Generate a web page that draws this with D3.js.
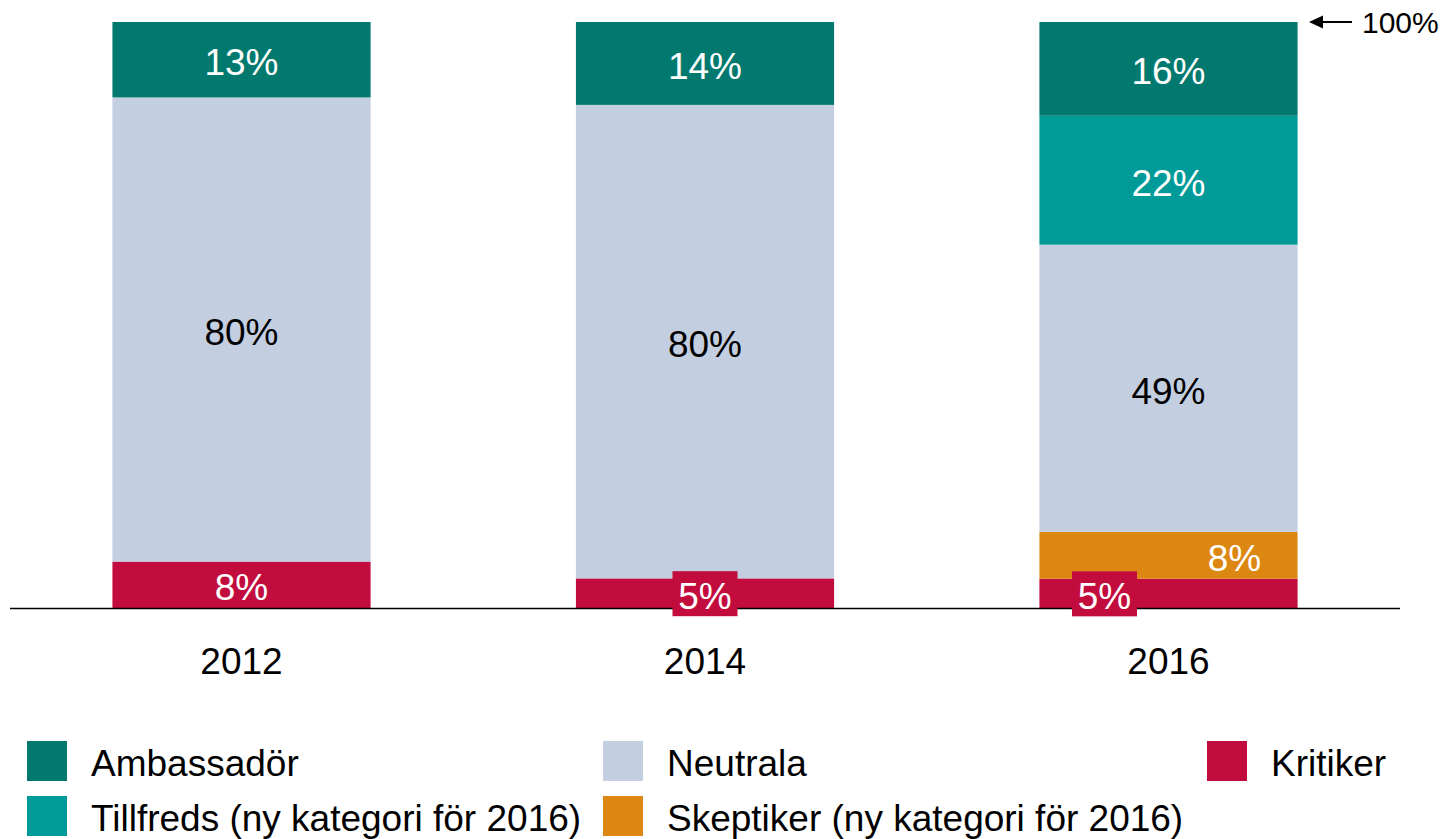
<!DOCTYPE html>
<html>
<head>
<meta charset="utf-8">
<script src="https://cdn.jsdelivr.net/npm/d3@7"></script>
<style>
  html, body { margin: 0; padding: 0; background: #fff; }
  svg { display: block; font-family: "Liberation Sans", Arial, sans-serif; }
</style>
</head>
<body>
<svg id="chart" width="1445" height="839"></svg>
<script>
// Survey years
const years = ["2012", "2014", "2016"];

// Share of respondents per group (%), stacked from the bottom up
const kritiker   = [8, 5, 5];
const skeptiker  = [0, 0, 8];
const neutrala   = [80, 80, 49];
const tillfreds  = [0, 0, 22];
const ambassador = [13, 14, 16];

const seriesKeys   = ["Kritiker", "Skeptiker", "Neutrala", "Tillfreds", "Ambassadör"];
const seriesValues = [kritiker, skeptiker, neutrala, tillfreds, ambassador];
const seriesColors = ["#c20c3d", "#dd8713", "#c3cee1", "#009b98", "#02796e"];
const textColors   = ["#ffffff", "#ffffff", "#000000", "#ffffff", "#ffffff"];

// Legend entries in reading order
const legendLabels = [
  "Ambassadör", "Neutrala", "Kritiker",
  "Tillfreds (ny kategori för 2016)", "Skeptiker (ny kategori för 2016)"
];
const legendKeys = ["Ambassadör", "Neutrala", "Kritiker", "Tillfreds", "Skeptiker"];

const topLabel = "100%";

const rows = years.map((y, i) => {
  const r = { year: y };
  seriesKeys.forEach((k, j) => { r[k] = seriesValues[j][i]; });
  return r;
});

const svg = d3.select("#chart");
const baseY = 608, topY = 22;

const x = d3.scaleBand().domain(years).range([10, 1400])
  .paddingInner(0.443).paddingOuter(0.221);
const y = d3.scaleLinear().domain([0, 1]).range([baseY, topY]);
const color = d3.scaleOrdinal().domain(seriesKeys).range(seriesColors);
const txtColor = d3.scaleOrdinal().domain(seriesKeys).range(textColors);

// Each bar is normalised to its own total so all bars reach 100%
const stacked = d3.stack().keys(seriesKeys).offset(d3.stackOffsetExpand)(rows);

const layers = svg.append("g").selectAll("g")
  .data(stacked).join("g")
  .attr("fill", d => color(d.key));

layers.selectAll("rect")
  .data(d => d.filter(s => s.data[d.key] > 0))
  .join("rect")
  .attr("x", d => x(d.data.year))
  .attr("width", x.bandwidth())
  .attr("y", d => y(d[1]))
  .attr("height", d => y(d[0]) - y(d[1]));

// Baseline
svg.append("line")
  .attr("x1", 10).attr("x2", 1400)
  .attr("y1", baseY + 0.5).attr("y2", baseY + 0.5)
  .attr("stroke", "#000").attr("stroke-width", 1.5);

// Year axis
const xAxis = svg.append("g")
  .attr("transform", `translate(0,${baseY})`)
  .call(d3.axisBottom(x).tickSize(0).tickPadding(40));
xAxis.select(".domain").remove();
xAxis.selectAll("text")
  .attr("font-size", 37).attr("fill", "#000")
  .attr("font-family", "Liberation Sans, Arial, sans-serif");

// Segment value labels
const labels = svg.append("g").attr("font-size", 37).attr("text-anchor", "middle");
stacked.forEach(layer => {
  layer.forEach(seg => {
    const v = seg.data[layer.key];
    if (!v) return;
    const cx0 = x(seg.data.year) + x.bandwidth() / 2;
    const cy = (y(seg[0]) + y(seg[1])) / 2;
    const h = y(seg[0]) - y(seg[1]);
    // Two thin segments in the same bar are staggered left / right
    const hasSkeptiker = seg.data["Skeptiker"] > 0;
    let dx = 0;
    if (hasSkeptiker && layer.key === "Kritiker") dx = -64;
    if (hasSkeptiker && layer.key === "Skeptiker") dx = 66;
    const cx = cx0 + dx;
    if (h < 40) {
      labels.append("rect")
        .attr("x", cx - 32.5).attr("y", cy - 22)
        .attr("width", 65).attr("height", 45)
        .attr("fill", color(layer.key));
    }
    labels.append("text")
      .attr("x", cx).attr("y", cy)
      .attr("dy", "0.42em")
      .attr("fill", txtColor(layer.key))
      .text(v + "%");
  });
});

// 100% marker
const mark = svg.append("g");
mark.append("line")
  .attr("x1", 1318).attr("x2", 1352)
  .attr("y1", topY).attr("y2", topY)
  .attr("stroke", "#000").attr("stroke-width", 2);
mark.append("path")
  .attr("d", `M1309,${topY} L1323,${topY - 6.5} L1323,${topY + 6.5} Z`)
  .attr("fill", "#000");
mark.append("text")
  .attr("x", 1362).attr("y", topY).attr("dy", "0.38em")
  .attr("font-size", 30).attr("fill", "#000")
  .text(topLabel);

// Legend: three columns, two rows
const colX = [27, 603, 1207];
const rowY = [741, 796];
const legend = svg.append("g");
legendKeys.forEach((k, i) => {
  const gx = colX[i % 3], gy = rowY[Math.floor(i / 3)];
  legend.append("rect")
    .attr("x", gx).attr("y", gy).attr("width", 40).attr("height", 40)
    .attr("fill", color(k));
  legend.append("text")
    .attr("x", gx + 64).attr("y", gy + 35)
    .attr("font-size", 37).attr("fill", "#000")
    .text(legendLabels[i]);
});
</script>
</body>
</html>
